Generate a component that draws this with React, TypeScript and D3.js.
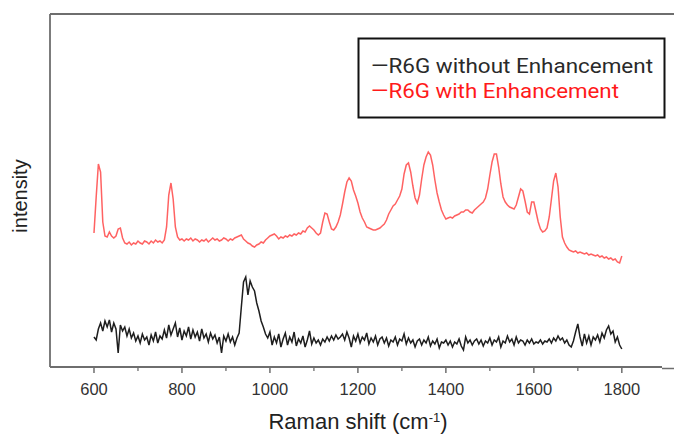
import React from "react";
import * as d3 from "d3";

const W = 674;
const H = 435;

const xStart = 600;
const xStep = 5;

// Intensity (a.u.) of R6G with enhancement, 600..1800 cm-1 every 5 cm-1
const withEnh = [
  134, 170, 203, 195, 145, 131, 130, 135, 131, 129, 131, 138, 139, 129, 124, 123, 125, 122, 124, 123,
  126, 124, 123, 126, 125, 123, 126, 124, 127, 125, 126, 124, 127, 140, 172, 184, 168, 140, 130, 127,
  128, 126, 128, 127, 129, 126, 128, 127, 125, 127, 126, 128, 125, 127, 129, 127, 128, 126, 127, 129,
  128, 126, 128, 127, 129, 130, 131, 132, 128, 126, 124, 123, 121, 120, 122, 123, 125, 124, 127, 129,
  131, 132, 133, 131, 128, 130, 129, 131, 130, 132, 131, 133, 132, 134, 133, 136, 135, 139, 141, 139,
  137, 134, 132, 134, 145, 154, 153, 145, 138, 137, 140, 145, 152, 163, 175, 185, 189, 186, 177, 171,
  164, 155, 149, 145, 140, 139, 138, 137, 137, 138, 139, 141, 143, 147, 153, 157, 161, 163, 167, 171,
  178, 193, 202, 204, 195, 181, 169, 164, 172, 188, 202, 210, 215, 212, 202, 187, 174, 165, 157, 152,
  148, 149, 150, 149, 151, 152, 153, 155, 155, 157, 157, 155, 154, 157, 159, 161, 163, 165, 169, 178,
  192, 205, 213, 213, 200, 183, 170, 165, 162, 160, 159, 158, 162, 170, 178, 176, 166, 155, 153, 165,
  165, 155, 145, 138, 135, 136, 139, 150, 168, 186, 194, 180, 150, 130, 124, 120, 117, 116, 115, 116,
  114, 115, 114, 113, 114, 112, 113, 112, 111, 112, 110, 111, 109, 110, 108, 109, 107, 108, 105, 104,
  111,
];

// Intensity (a.u.) of R6G without enhancement, 600..1800 cm-1 every 5 cm-1
const withoutEnh = [
  30, 27, 38, 44, 36, 46, 40, 47, 35, 44, 38, 14, 42, 36, 40, 31, 38, 29, 34, 26,
  31, 24, 33, 27, 30, 22, 32, 26, 35, 24, 31, 28, 37, 29, 42, 32, 38, 44, 30, 39,
  27, 36, 31, 40, 28, 37, 30, 35, 26, 38, 29, 33, 25, 34, 28, 32, 24, 30, 14, 31,
  26, 33, 25, 30, 22, 29, 34, 60, 85, 90, 72, 86, 80, 76, 64, 56, 46, 40, 33, 29,
  35, 22, 30, 24, 33, 20, 28, 34, 22, 30, 25, 35, 21, 28, 24, 31, 20, 27, 36, 23,
  29, 24, 27, 22, 28, 25, 30, 26, 31, 27, 32, 28, 30, 33, 27, 35, 29, 20, 31, 26,
  33, 24, 30, 27, 34, 23, 29, 25, 31, 22, 28, 30, 24, 29, 21, 27, 25, 30, 22, 28,
  26, 33, 23, 29, 24, 27, 20, 26, 28, 22, 27, 24, 30, 21, 26, 23, 28, 19, 25, 24,
  27, 22, 26, 20, 25, 23, 28, 21, 17, 30, 24, 27, 22, 26, 28, 23, 27, 21, 26, 24,
  29, 22, 27, 25, 30, 20, 26, 24, 31, 25, 28, 22, 30, 24, 27, 26, 22, 27, 24, 28,
  23, 25, 24, 27, 23, 26, 25, 28, 24, 29, 26, 31, 27, 29, 24, 27, 22, 20, 26, 35,
  43, 30, 21, 33, 24, 31, 22, 30, 27, 32, 25, 34, 29, 37, 41, 33, 36, 25, 30, 22,
  18,
];

const xTickMajor = [600, 800, 1000, 1200, 1400, 1600, 1800];
const xTickMinor = [700, 900, 1100, 1300, 1500, 1700];
const legendLabels = ["—R6G without Enhancement", "—R6G with Enhancement"];
const seriesColors = ["#1e1e1e", "#ff3b3b"];

const left = 50;
const top = 14;
const bottom = 367;
const rightFrame = 674;

export default function App() {
  const x = d3.scaleLinear().domain([500, 1900]).range([left, 665.8]);
  const y = d3.scaleLinear().domain([0, bottom - top]).range([bottom, top]);

  const line = d3
    .line<number>()
    .x((_, i) => x(xStart + i * xStep))
    .y((v) => y(v));

  const axisColor = "#6e6e6e";
  const legendWidths = [282, 248];
  return (
    <svg
      width={W}
      height={H}
      style={{ position: "absolute", left: 0, top: 0, background: "#fff" }}
      fontFamily="'Liberation Sans', Arial, sans-serif"
    >
      {/* frame */}
      <line x1={left} x2={rightFrame} y1={top} y2={top} stroke={axisColor} strokeWidth={1.8} />
      <line x1={left} x2={left} y1={top} y2={bottom} stroke={axisColor} strokeWidth={1.8} />
      <line x1={left} x2={662} y1={bottom} y2={bottom} stroke={axisColor} strokeWidth={1.8} />
      <line x1={662} x2={rightFrame} y1={bottom + 1.5} y2={bottom + 1.5} stroke={axisColor} strokeWidth={1.5} />

      {/* ticks */}
      {xTickMajor.map((t) => (
        <g key={"M" + t}>
          <line x1={x(t)} x2={x(t)} y1={bottom} y2={bottom + 6} stroke={axisColor} strokeWidth={1.5} />
          <text x={x(t)} y={395} textAnchor="middle" fontSize={16.5} fill="#333">
            {t}
          </text>
        </g>
      ))}
      {xTickMinor.map((t) => (
        <line key={"m" + t} x1={x(t)} x2={x(t)} y1={bottom} y2={bottom + 4} stroke={axisColor} strokeWidth={1.3} />
      ))}

      {/* axis titles */}
      <text x={358} y={429} textAnchor="middle" fontSize={22} fill="#222">
        Raman shift (cm
        <tspan baselineShift="super" fontSize={13}>-1</tspan>
        )
      </text>
      <text
        transform="translate(27,196) rotate(-90)"
        textAnchor="middle"
        fontSize={20}
        fill="#222"
      >
        intensity
      </text>

      {/* series */}
      <path d={line(withEnh) || ""} fill="none" stroke={seriesColors[1]} strokeWidth={1.5} strokeOpacity={0.8} />
      <path d={line(withoutEnh) || ""} fill="none" stroke={seriesColors[0]} strokeWidth={1.5} />

      {/* legend */}
      <rect x={358.5} y={38.5} width={306} height={79} fill="#fff" stroke="#111" strokeWidth={2} />
      {legendLabels.map((l, i) => (
        <text
          key={l}
          x={371}
          y={73 + i * 25}
          fontSize={20.5}
          textLength={legendWidths[i]}
          lengthAdjust="spacingAndGlyphs"
          fill={i === 0 ? "#2a2a2a" : "#ff1a1a"}
          fontFamily="Roboto, 'Liberation Sans', sans-serif"
        >
          {l}
        </text>
      ))}
    </svg>
  );
}
